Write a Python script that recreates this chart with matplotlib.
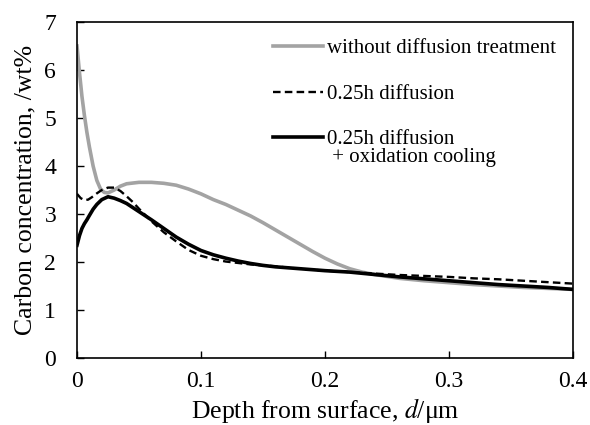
import numpy as np
import matplotlib
matplotlib.use("Agg")
import matplotlib.pyplot as plt
from matplotlib.legend_handler import HandlerLine2D

# depth (um) and carbon concentration (wt%)
depthNoDiff = [0, 0.002, 0.004, 0.006, 0.008, 0.010, 0.013, 0.016, 0.019, 0.022, 0.025,
               0.03, 0.035, 0.04, 0.05, 0.06, 0.07, 0.08, 0.09, 0.10, 0.11, 0.12, 0.13,
               0.14, 0.15, 0.16, 0.17, 0.18, 0.19, 0.20, 0.21, 0.22, 0.23, 0.24, 0.26,
               0.28, 0.30, 0.32, 0.34, 0.36, 0.38, 0.40]
carbonNoDiff = [6.5, 5.95, 5.45, 5.05, 4.7, 4.4, 4.0, 3.7, 3.52, 3.45, 3.44,
                3.5, 3.58, 3.63, 3.66, 3.66, 3.64, 3.6, 3.52, 3.42, 3.3, 3.2, 3.08,
                2.96, 2.82, 2.67, 2.52, 2.37, 2.22, 2.08, 1.96, 1.86, 1.79, 1.74, 1.66,
                1.61, 1.57, 1.53, 1.50, 1.47, 1.45, 1.43]

depthDiff = [0, 0.003, 0.006, 0.009, 0.012, 0.016, 0.020, 0.025, 0.030, 0.035, 0.040,
             0.045, 0.050, 0.06, 0.07, 0.08, 0.09, 0.10, 0.11, 0.12, 0.13, 0.14, 0.15,
             0.16, 0.18, 0.20, 0.22, 0.24, 0.26, 0.28, 0.30, 0.32, 0.34, 0.36, 0.38, 0.40]
carbonDiff = [3.42, 3.33, 3.29, 3.3, 3.35, 3.43, 3.5, 3.55, 3.55, 3.48, 3.37,
              3.25, 3.11, 2.85, 2.62, 2.43, 2.25, 2.13, 2.06, 2.01, 1.98, 1.95, 1.93,
              1.91, 1.86, 1.82, 1.79, 1.76, 1.73, 1.71, 1.69, 1.66, 1.64, 1.61, 1.58, 1.55]

depthOxid = [0, 0.002, 0.004, 0.006, 0.008, 0.010, 0.013, 0.016, 0.020, 0.025, 0.030,
             0.035, 0.040, 0.050, 0.06, 0.07, 0.08, 0.09, 0.10, 0.11, 0.12, 0.13, 0.14,
             0.15, 0.16, 0.18, 0.20, 0.22, 0.24, 0.26, 0.28, 0.30, 0.32, 0.34, 0.36,
             0.38, 0.40]
carbonOxid = [2.35, 2.55, 2.7, 2.8, 2.88, 2.97, 3.1, 3.2, 3.3, 3.36, 3.33,
              3.28, 3.22, 3.05, 2.88, 2.7, 2.52, 2.37, 2.24, 2.15, 2.08, 2.02, 1.97,
              1.93, 1.90, 1.86, 1.82, 1.79, 1.74, 1.69, 1.65, 1.61, 1.57, 1.53, 1.5,
              1.47, 1.43]

labels = ["without diffusion treatment", "0.25h diffusion",
          "0.25h diffusion\n + oxidation cooling"]
xTicks = [0, 0.1, 0.2, 0.3, 0.4]
xTickLabels = ["0", "0.1", "0.2", "0.3", "0.4"]


class RaisedLine(HandlerLine2D):
    """legend line moved up so it sits next to the first line of a two-line label"""
    def __init__(self, shift, **kw):
        super().__init__(**kw)
        self.shift = shift

    def create_artists(self, legend, orig_handle, xdescent, ydescent, width, height, fontsize, trans):
        arts = super().create_artists(legend, orig_handle, xdescent, ydescent, width, height, fontsize, trans)
        for a in arts:
            a.set_ydata(np.asarray(a.get_ydata(), dtype=float) + self.shift * fontsize)
        return arts


plt.rcParams['font.family'] = ['Liberation Serif', 'DejaVu Serif']
plt.rcParams['mathtext.fontset'] = 'stix'

fig = plt.figure(figsize=(5.9, 4.25), dpi=100)
ax = fig.add_axes([0.1305, 0.1576, 0.8405, 0.7906])

ax.plot(depthNoDiff, carbonNoDiff, color="#a3a3a3", lw=2.6, label=labels[0])
ax.plot(depthDiff, carbonDiff, color="black", lw=1.7, ls=(0, (3.2, 1.8)), label=labels[1])
lOx, = ax.plot(depthOxid, carbonOxid, color="black", lw=2.6, label=labels[2])

ax.set_xlim(0, 0.4)
ax.set_ylim(0, 7)
ax.set_xticks(xTicks)
ax.set_xticklabels(xTickLabels)
ax.set_yticks(range(0, 8))
ax.tick_params(direction="in", labelsize=17, length=5, width=1)
ax.tick_params(axis="x", pad=9)
ax.tick_params(axis="y", pad=15)
for s in ax.spines.values():
    s.set_linewidth(1.2)

ax.set_xlabel(r"Depth from surface, $d$/μm", fontsize=18.5, labelpad=3)
ax.set_ylabel("Carbon concentration, /wt%", fontsize=18.5, labelpad=6)

leg = ax.legend(loc="upper right", bbox_to_anchor=(1.0, 1.0), frameon=False, fontsize=15,
                handlelength=2.4, handletextpad=0.2, labelspacing=1.25, borderaxespad=0.4,
                handler_map={lOx: RaisedLine(0.55)})
leg.get_texts()[2].set_linespacing(0.95)

fig.savefig("out.png", dpi=100)
